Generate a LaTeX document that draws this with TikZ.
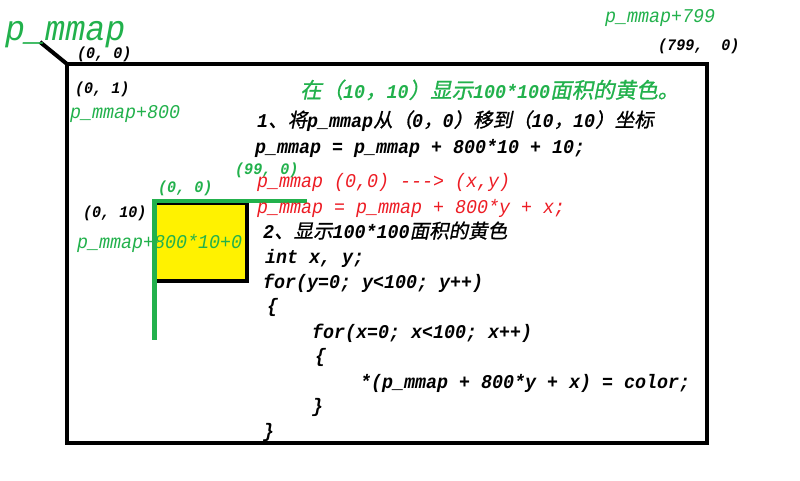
\documentclass[tikz,border=0pt]{standalone}
\usepackage{fontspec}
\newfontfamily\lat[FakeStretch=0.94]{Liberation Mono}
\newfontfamily\cjkf[FakeSlant=0.2,FakeBold=1]{Noto Sans CJK SC}
\newcommand\Z[1]{{\cjkf\mdseries\upshape\fontsize{19.5}{21}\selectfont #1}}
\newcommand\ZT[1]{{\cjkf\mdseries\upshape\fontsize{21.5}{22}\selectfont #1}}
\definecolor{pgreen}{HTML}{22B14C}
\definecolor{pred}{HTML}{ED1C24}
\definecolor{pyellow}{HTML}{FFF200}
\tikzset{
  code/.style={anchor=base west, inner sep=0pt, font=\lat\bfseries\itshape\fontsize{19.5}{21}\selectfont},
  lbl/.style={anchor=base west, inner sep=0pt, font=\lat\bfseries\itshape\fontsize{16}{18}\selectfont},
  gtag/.style={anchor=base west, inner sep=0pt, text=pgreen, font=\lat\itshape\fontsize{19.5}{21}\selectfont},
  thick line/.style={line width=4pt},
  gline/.style={line width=4.5pt, draw=pgreen},
}
\begin{document}
\begin{tikzpicture}[x=1pt,y=-1pt]
\useasboundingbox (0,0) rectangle (800,480);
\fill[white] (0,0) rectangle (800,480);
% main frame
\draw[thick line] (67,64) rectangle (707,443);
\coordinate (corner) at (67,64);
\coordinate (tip) at (40,42);
\draw[thick line] (tip) -- (corner);
% yellow square
\draw[thick line, fill=pyellow] (155,203) rectangle (246.5,281);
\coordinate (gv1) at (154.5,199);
\coordinate (gv2) at (154.5,340);
\coordinate (gh1) at (152,201);
\coordinate (gh2) at (307,201);
\draw[gline] (gv1) -- (gv2);
\draw[gline] (gh1) -- (gh2);
% labels outside
\node[anchor=base west, inner sep=0pt, text=pgreen, font=\lat\itshape\fontsize{35.5}{38}\selectfont] (pm) at (5,40) {p\_mmap};
\node[lbl] (o00) at (77,58) {(0, 0)};
\node[lbl] (o01) at (75,93) {(0, 1)};
\node[gtag] (pm800) at (70,118) {p\_mmap+800};
\node[gtag] (pm799) at (605,22) {p\_mmap+799};
\node[lbl] (o799) at (658,50) {(799,~ 0)};
% square labels
\node[lbl, text=pgreen] (s00) at (158,192) {(0, 0)};
\node[lbl] (s010) at (83,217) {(0, 10)};
\node[lbl, text=pgreen] (s990) at (235,174) {(99, 0)};
\node[gtag] (soff) at (77,248) {p\_mmap+800*10+0};
% text block
\node[code, text=pgreen] (title) at (300,98) {\ZT{在（}10\ZT{，}10\ZT{）显示}100*100\ZT{面积的黄色。}};
\node[code] (s1) at (257,127) {1\Z{、将}p\_mmap\Z{从（}0\Z{，}0\Z{）移到（}10\Z{，}10\Z{）坐标}};
\node[code] (l1) at (255,153) {p\_mmap = p\_mmap + 800*10 + 10;};
\node[code, text=pred, font=\lat\itshape\fontsize{19.5}{21}\selectfont] (r1) at (257,187) {p\_mmap (0,0) -{}-{}-> (x,y)};
\node[code, text=pred, font=\lat\itshape\fontsize{19.5}{21}\selectfont] (r2) at (257,213) {p\_mmap = p\_mmap + 800*y + x;};
\node[code] (s2) at (263,238) {2\Z{、显示}100*100\Z{面积的黄色}};
\node[code] (c1) at (265,263) {int x, y;};
\node[code] (c2) at (263,288) {for(y=0; y<100; y++)};
\node[code] (c3) at (267,312) {\{};
\node[code] (c4) at (312,338) {for(x=0; x<100; x++)};
\node[code] (c5) at (315,362) {\{};
\node[code] (c6) at (360,388) {*(p\_mmap + 800*y + x) = color;};
\node[code] (c7) at (312,412) {\}};
\node[code] (c8) at (263,437) {\}};
\end{tikzpicture}
\end{document}
